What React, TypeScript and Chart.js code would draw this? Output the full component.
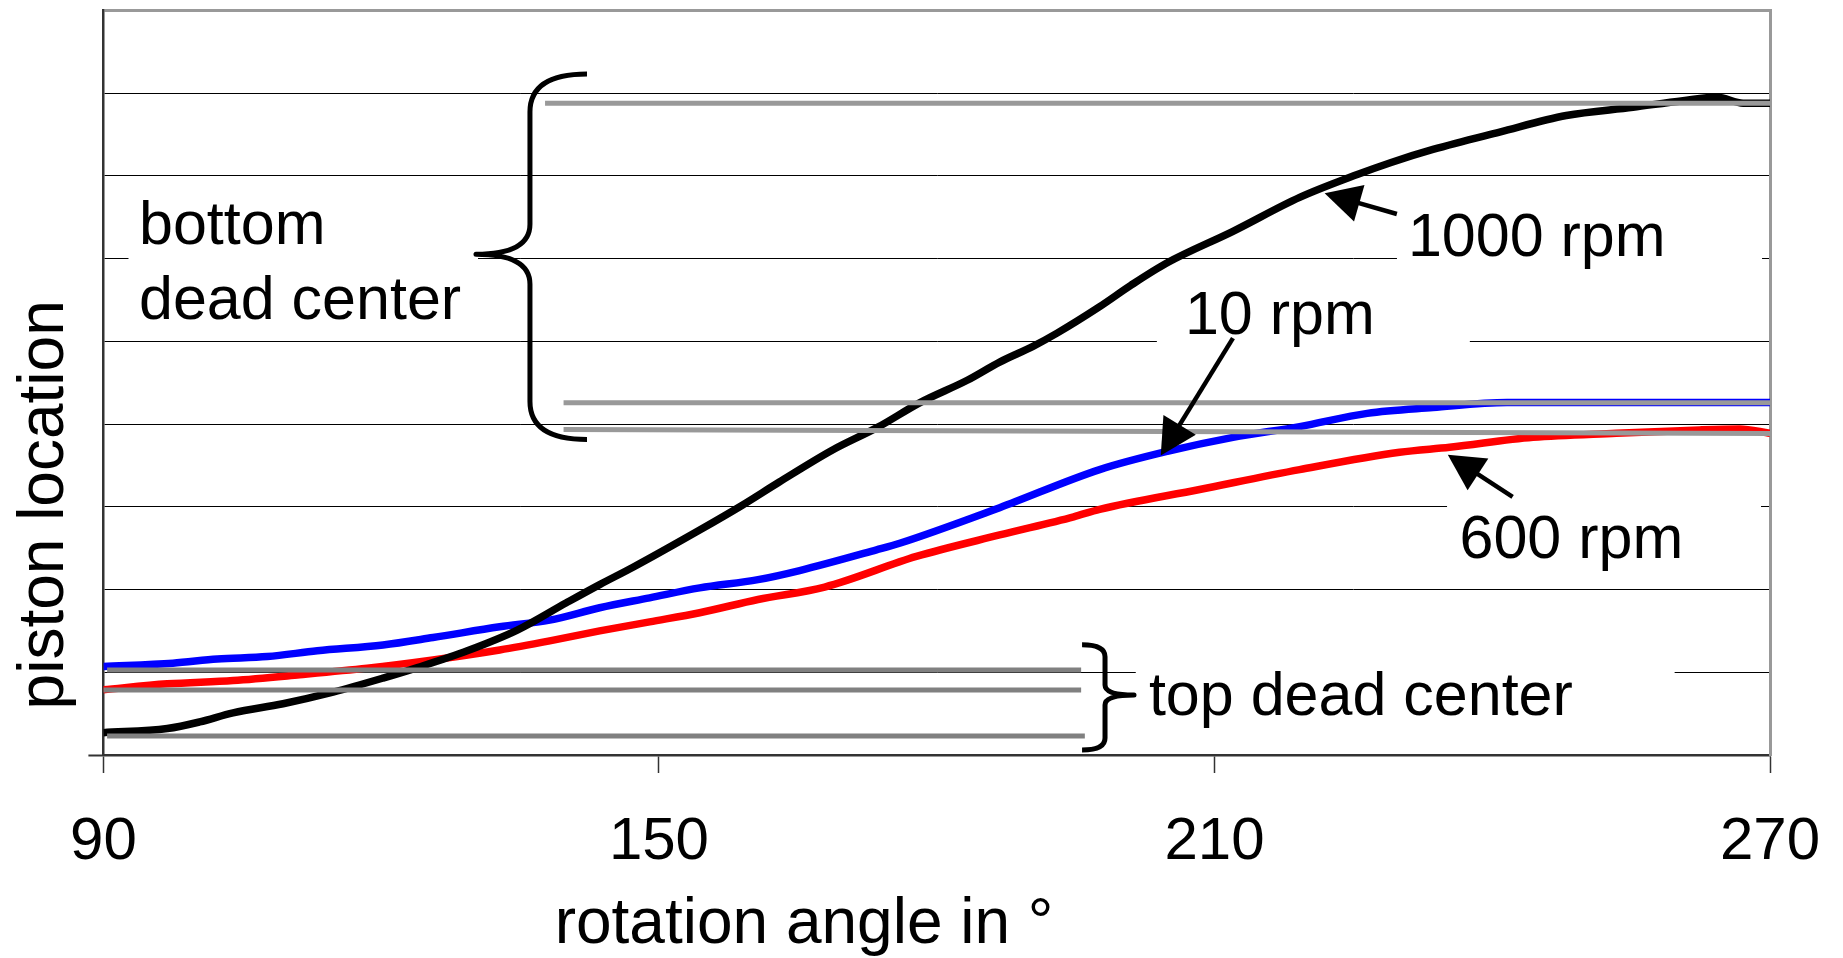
import React, { useEffect, useRef } from 'react';
import { Chart, registerables } from 'chart.js';

Chart.register(...registerables);

const FONT = '"Liberation Sans", Arial, Helvetica, sans-serif';

// ---- axis ----
const xTicks = [90, 150, 210, 270];
const yMin = 0;
const yMax = 9;

// ---- measured curves (rotation angle in deg, piston location in grid units) ----
const angle1000 = [90, 96.9, 100.4, 104, 109.4, 114.8, 120.2, 124, 129.3, 134.7, 140, 143.6, 147.2, 154.4, 159, 163, 168.8, 173.6, 178.2, 183.3, 186.8, 190.4, 193, 197.6, 201, 204.9, 212, 219.2, 225.5, 229, 233.6, 240.8, 248, 255.2, 260.6, 264.3, 267.1, 270];
const pos1000 = [0.27, 0.32, 0.40, 0.51, 0.62, 0.76, 0.93, 1.06, 1.26, 1.51, 1.84, 2.06, 2.27, 2.72, 3.02, 3.30, 3.69, 3.96, 4.26, 4.53, 4.75, 4.94, 5.10, 5.42, 5.68, 5.95, 6.33, 6.74, 7.02, 7.16, 7.32, 7.53, 7.73, 7.83, 7.91, 7.95, 7.88, 7.88];

const angle10 = [90, 97.5, 102.3, 107.7, 113.1, 120.2, 125.6, 132.8, 138.2, 143.6, 149, 154.4, 160.7, 165.2, 173.5, 176, 186.8, 197.6, 204.9, 212, 219.2, 226.5, 233.6, 241.6, 251.6, 270];
const pos10 = [1.07, 1.11, 1.16, 1.19, 1.26, 1.33, 1.42, 1.55, 1.63, 1.78, 1.90, 2.02, 2.12, 2.23, 2.48, 2.56, 2.99, 3.45, 3.67, 3.84, 3.97, 4.13, 4.20, 4.26, 4.26, 4.26];

const angle600 = [90, 96.9, 104, 111.2, 118.5, 125.6, 132.8, 138.2, 143.6, 149, 154.4, 160.7, 167.9, 177.8, 186.8, 194.8, 197.6, 208.4, 219.2, 230, 235.4, 244.4, 253.4, 262.4, 266.7, 270];
const pos600 = [0.79, 0.86, 0.90, 0.97, 1.05, 1.15, 1.27, 1.38, 1.50, 1.61, 1.72, 1.88, 2.03, 2.40, 2.66, 2.88, 2.97, 3.21, 3.45, 3.66, 3.72, 3.84, 3.89, 3.93, 3.94, 3.89];

// ---- dead-center reference lines ----
const bdcStartAngles = [137.7, 139.7, 139.7];
const bdcEndAngles = [270, 270, 270];
const bdcStartPos = [7.878, 4.258, 3.935];
const bdcEndPos = [7.878, 4.258, 3.886];

const tdcStartAngles = [90.4, 90.0, 90.4];
const tdcEndAngles = [195.6, 195.6, 196.0];
const tdcPos = [1.029, 0.787, 0.23];

// ---- annotations (in data units) ----
const labelTexts = ['bottom', 'dead center', '1000 rpm', '10 rpm', '600 rpm', 'top dead center'];
const labelAngles = [93.84, 93.84, 230.89, 206.81, 236.46, 202.92];
const labelPos = [6.174, 5.266, 6.029, 5.085, 2.385, 0.484];

const boxAngles = [[92.71, 130.46], [229.71, 269.14], [203.78, 237.58], [235.12, 269.03], [201.5, 259.7]];
const boxPos = [[6.84, 5.085], [6.84, 5.69], [5.69, 4.78], [3.148, 2.119], [1.15, 0.18]];

const arrowTail = [[229.7, 6.54], [212.0, 5.04], [242.2, 3.12]];
const arrowTip = [[221.9, 6.79], [204.2, 3.62], [235.2, 3.63]];

// brace: [endAngle, spineAngle, tipAngle, topPos, midPos, bottomPos]
const braces = [
  [142.23, 136.07, 130.24, 8.232, 6.053, 3.814],
  [195.7, 198.18, 201.31, 1.332, 0.726, 0.061],
];
const braceRadii = [[38, 30], [12, 10]];

const xTitle = 'rotation angle in °';
const yTitle = 'piston location';

function pts(xs: number[], ys: number[]) {
  return xs.map((x, i) => ({ x, y: ys[i] }));
}

function drawBrace(ctx: CanvasRenderingContext2D, xe: number, xv: number, xt: number, yt: number, ym: number, yb: number, r1: number, r2: number) {
  ctx.beginPath();
  ctx.moveTo(xe, yt);
  ctx.quadraticCurveTo(xv, yt, xv, yt + r1);
  ctx.lineTo(xv, ym - r2);
  ctx.quadraticCurveTo(xv, ym, xt, ym);
  ctx.quadraticCurveTo(xv, ym, xv, ym + r2);
  ctx.lineTo(xv, yb - r1);
  ctx.quadraticCurveTo(xv, yb, xe, yb);
  ctx.stroke();
}

function drawArrow(ctx: CanvasRenderingContext2D, x1: number, y1: number, x2: number, y2: number) {
  const dx = x2 - x1, dy = y2 - y1;
  const len = Math.hypot(dx, dy);
  const ux = dx / len, uy = dy / len;
  const hl = 36, hw = 19;
  const bx = x2 - ux * hl, by = y2 - uy * hl;
  ctx.lineWidth = 4.5;
  ctx.beginPath();
  ctx.moveTo(x1, y1);
  ctx.lineTo(bx + ux * 3, by + uy * 3);
  ctx.stroke();
  ctx.beginPath();
  ctx.moveTo(x2, y2);
  ctx.lineTo(bx - uy * hw, by + ux * hw);
  ctx.lineTo(bx + uy * hw, by - ux * hw);
  ctx.closePath();
  ctx.fill();
}

const annotationPlugin = {
  id: 'pistonAnnotations',
  beforeDatasetsDraw(chart: any) {
    const { ctx, scales } = chart;
    const x = scales.x, y = scales.y;
    ctx.save();
    ctx.fillStyle = '#ffffff';
    boxAngles.forEach((b, i) => {
      const px0 = x.getPixelForValue(b[0]);
      const px1 = x.getPixelForValue(b[1]);
      const py0 = y.getPixelForValue(boxPos[i][0]);
      const py1 = y.getPixelForValue(boxPos[i][1]);
      ctx.fillRect(px0, py0, px1 - px0, py1 - py0);
    });
    ctx.restore();
  },
  afterDatasetsDraw(chart: any) {
    const { ctx, scales } = chart;
    const x = scales.x, y = scales.y;
    ctx.save();
    ctx.strokeStyle = '#000';
    ctx.fillStyle = '#000';
    ctx.lineCap = 'butt';
    ctx.lineJoin = 'round';
    ctx.lineWidth = 5;
    braces.forEach((b, i) => {
      drawBrace(
        ctx,
        x.getPixelForValue(b[0]), x.getPixelForValue(b[1]), x.getPixelForValue(b[2]),
        y.getPixelForValue(b[3]), y.getPixelForValue(b[4]), y.getPixelForValue(b[5]),
        braceRadii[i][0], braceRadii[i][1]
      );
    });
    arrowTail.forEach((t, i) => {
      drawArrow(ctx,
        x.getPixelForValue(t[0]), y.getPixelForValue(t[1]),
        x.getPixelForValue(arrowTip[i][0]), y.getPixelForValue(arrowTip[i][1]));
    });
    ctx.font = `61px ${FONT}`;
    ctx.textAlign = 'left';
    ctx.textBaseline = 'alphabetic';
    labelTexts.forEach((t, i) => {
      ctx.fillText(t, x.getPixelForValue(labelAngles[i]), y.getPixelForValue(labelPos[i]));
    });
    ctx.restore();
  },
  afterDraw(chart: any) {
    const { ctx, chartArea } = chart;
    ctx.save();
    ctx.fillStyle = '#000';
    ctx.font = `64px ${FONT}`;
    ctx.textAlign = 'center';
    ctx.textBaseline = 'alphabetic';
    const w = chartArea.right - chartArea.left;
    const h = chartArea.bottom - chartArea.top;
    ctx.fillText(xTitle, chartArea.left + w * 0.4204, chart.height - 15);
    ctx.translate(63, chartArea.top + h * 0.664);
    ctx.rotate(-Math.PI / 2);
    ctx.fillText(yTitle, 0, 0);
    ctx.restore();
  },
};

export default function App() {
  const canvasRef = useRef<HTMLCanvasElement | null>(null);

  useEffect(() => {
    const canvas = canvasRef.current;
    if (!canvas) return;

    const greyLines: any[] = [];
    bdcStartAngles.forEach((a, i) => {
      greyLines.push({
        label: 'BDC ' + (i + 1),
        data: [{ x: a, y: bdcStartPos[i] }, { x: bdcEndAngles[i], y: bdcEndPos[i] }],
        borderColor: '#999999',
        borderWidth: 5,
        pointRadius: 0,
        order: 0,
      });
    });
    tdcStartAngles.forEach((a, i) => {
      greyLines.push({
        label: 'TDC ' + (i + 1),
        data: [{ x: a, y: tdcPos[i] }, { x: tdcEndAngles[i], y: tdcPos[i] }],
        borderColor: '#808080',
        borderWidth: 5,
        pointRadius: 0,
        order: 0,
      });
    });

    const chart = new Chart(canvas, {
      type: 'line',
      data: {
        datasets: [
          ...greyLines,
          {
            label: '1000 rpm',
            data: pts(angle1000, pos1000),
            borderColor: '#000000',
            borderWidth: 7.5,
            pointRadius: 0,
            cubicInterpolationMode: 'monotone',
            order: 1,
          },
          {
            label: '10 rpm',
            data: pts(angle10, pos10),
            borderColor: '#0000ff',
            borderWidth: 7.5,
            pointRadius: 0,
            cubicInterpolationMode: 'monotone',
            order: 2,
          },
          {
            label: '600 rpm',
            data: pts(angle600, pos600),
            borderColor: '#ff0000',
            borderWidth: 7.5,
            pointRadius: 0,
            cubicInterpolationMode: 'monotone',
            order: 3,
          },
        ],
      },
      options: {
        responsive: false,
        animation: false,
        events: [],
        layout: { padding: { top: 10.5, left: 0, right: 0, bottom: 0 } },
        plugins: {
          legend: { display: false },
          tooltip: { enabled: false },
          title: { display: false },
        },
        scales: {
          x: {
            type: 'linear',
            position: 'bottom',
            min: xTicks[0],
            max: xTicks[xTicks.length - 1],
            afterBuildTicks: (s: any) => {
              s.ticks = xTicks.map((v) => ({ value: v }));
            },
            ticks: {
              autoSkip: false,
              maxRotation: 0,
              padding: 33,
              color: '#000',
              font: { family: FONT, size: 60 },
            },
            grid: {
              drawOnChartArea: false,
              drawTicks: true,
              tickLength: 18,
              tickColor: '#333',
              tickWidth: 1.5,
            },
            border: { display: true, color: '#333', width: 2.5 },
            afterFit: (s: any) => {
              s.height = 203;
              s.paddingLeft = 0;
              s.paddingRight = 0;
            },
          },
          y: {
            type: 'linear',
            position: 'left',
            min: yMin,
            max: yMax,
            ticks: { display: false, stepSize: 1 },
            grid: {
              color: (c: any) => (c.tick && c.tick.value === yMax ? '#999999' : '#000000'),
              lineWidth: (c: any) => (c.tick && c.tick.value === yMax ? 3 : 1),
              drawTicks: true,
              tickLength: 15,
              tickColor: (c: any) => (c.tick && c.tick.value === yMin ? '#333' : 'rgba(0,0,0,0)'),
              tickWidth: 2,
            },
            border: { display: true, color: '#333', width: 2.5 },
            afterFit: (s: any) => {
              s.width = 103.4;
              s.paddingTop = 0;
              s.paddingBottom = 0;
            },
          },
          y2: {
            type: 'linear',
            position: 'right',
            min: yMin,
            max: yMax,
            ticks: { display: false },
            grid: { drawOnChartArea: false, drawTicks: false },
            border: { display: true, color: '#999999', width: 3 },
            afterFit: (s: any) => {
              s.width = 73;
              s.paddingTop = 0;
              s.paddingBottom = 0;
            },
          },
        },
      } as any,
      plugins: [annotationPlugin as any],
    });

    return () => {
      chart.destroy();
    };
  }, []);

  return (
    <div style={{ position: 'fixed', left: 0, top: 0, width: 1843, height: 958, background: '#ffffff' }}>
      <canvas ref={canvasRef} width={1843} height={958} style={{ display: 'block' }} />
    </div>
  );
}
